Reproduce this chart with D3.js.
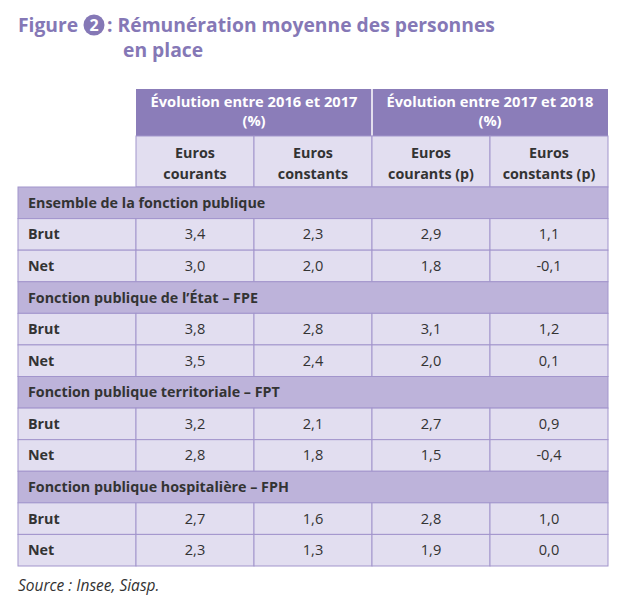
<!DOCTYPE html>
<html><head><meta charset="utf-8">
<script src="https://cdn.jsdelivr.net/npm/d3@7"></script>
<style>body{margin:0;background:#fff}svg{display:block}</style>
</head><body>
<script>
const periods = ["Évolution entre 2016 et 2017", "Évolution entre 2017 et 2018"];
const subHeaders = [["Euros","courants"],["Euros","constants"],["Euros","courants (p)"],["Euros","constants (p)"]];
const groups = ["Ensemble de la fonction publique","Fonction publique de l’État – FPE","Fonction publique territoriale – FPT","Fonction publique hospitalière – FPH"];
const rowLabels = ["Brut","Net"];
const brut = [["3,4","2,3","2,9","1,1"],["3,8","2,8","3,1","1,2"],["3,2","2,1","2,7","0,9"],["2,7","1,6","2,8","1,0"]];
const net  = [["3,0","2,0","1,8","-0,1"],["3,5","2,4","2,0","0,1"],["2,8","1,8","1,5","-0,4"],["2,3","1,3","1,9","0,0"]];

const W=640,H=604;
const font="'Open Sans', sans-serif";
const svg=d3.select("body").append("svg").attr("width",W).attr("height",H).style("font-family",font);

const purpleDark="#8b7db9", lilac="#bdb3da", pale="#e2def0", border="#a295cc", txt="#333333", titleC="#8578b6";
const fs=14.3;

// title
const tfs=19.3;
svg.append("text").attr("x",18).attr("y",32).attr("fill",titleC).attr("font-size",tfs).attr("font-weight",700).text("Figure");
svg.append("circle").attr("cx",94).attr("cy",25).attr("r",10.5).attr("fill",titleC);
svg.append("text").attr("x",94).attr("y",31).attr("fill","#fff").attr("font-size",16).attr("font-weight",700).attr("text-anchor","middle").text("2");
svg.append("text").attr("x",107).attr("y",32).attr("fill",titleC).attr("font-size",tfs).attr("font-weight",700).text(": Rémunération moyenne des personnes");
svg.append("text").attr("x",123).attr("y",57).attr("fill",titleC).attr("font-size",tfs).attr("font-weight",700).text("en place");

const cols=["label","c0","c1","c2","c3"];
const x=d3.scaleBand().domain(cols).range([18,608]);
const bodyRows=[];
groups.forEach((g,i)=>{
  bodyRows.push({type:"group",label:g});
  bodyRows.push({type:"data",label:rowLabels[0],vals:brut[i]});
  bodyRows.push({type:"data",label:rowLabels[1],vals:net[i]});
});
const y=d3.scaleBand().domain(d3.range(bodyRows.length)).range([187,566]);
const h1Top=89,h1Bot=136,h2Bot=187;

// header 1
periods.forEach((p,i)=>{
  const x0=x(cols[1+2*i]), x1=x(cols[2+2*i])+x.bandwidth();
  svg.append("rect").attr("x",x0).attr("y",h1Top).attr("width",x1-x0).attr("height",h1Bot-h1Top).attr("fill",purpleDark);
  const t=svg.append("text").attr("text-anchor","middle").attr("fill","#fff").attr("font-size",fs+0.4).attr("font-weight",700);
  t.append("tspan").attr("x",(x0+x1)/2).attr("y",107).text(p);
  t.append("tspan").attr("x",(x0+x1)/2).attr("y",126).text("(%)");
});
svg.append("line").attr("x1",x("c2")).attr("x2",x("c2")).attr("y1",h1Top).attr("y2",h1Bot).attr("stroke","#fff").attr("stroke-width",1.5);

// header 2
subHeaders.forEach((s,i)=>{
  const x0=x(cols[1+i]);
  svg.append("rect").attr("x",x0).attr("y",h1Bot).attr("width",x.bandwidth()).attr("height",h2Bot-h1Bot).attr("fill",pale).attr("stroke",border).attr("stroke-width",1);
  const t=svg.append("text").attr("text-anchor","middle").attr("fill",txt).attr("font-size",fs).attr("font-weight",700);
  t.append("tspan").attr("x",x0+x.bandwidth()/2).attr("y",158).text(s[0]);
  t.append("tspan").attr("x",x0+x.bandwidth()/2).attr("y",179).text(s[1]);
});

// body
bodyRows.forEach((r,i)=>{
  const yy=y(i), hh=y.bandwidth();
  if(r.type==="group"){
    svg.append("rect").attr("x",x("label")).attr("y",yy).attr("width",x.range()[1]-x("label")).attr("height",hh).attr("fill",lilac).attr("stroke",border);
    svg.append("text").attr("x",x("label")+10).attr("y",yy+hh/2+5).attr("fill",txt).attr("font-size",fs).attr("font-weight",700).text(r.label);
  } else {
    cols.forEach((c)=>{
      svg.append("rect").attr("x",x(c)).attr("y",yy).attr("width",x.bandwidth()).attr("height",hh).attr("fill",pale).attr("stroke",border);
    });
    svg.append("text").attr("x",x("label")+10).attr("y",yy+hh/2+5).attr("fill",txt).attr("font-size",fs).attr("font-weight",700).text(r.label);
    r.vals.forEach((v,j)=>{
      svg.append("text").attr("x",x(cols[j+1])+x.bandwidth()/2).attr("y",yy+hh/2+5).attr("text-anchor","middle").attr("fill",txt).attr("font-size",fs+0.3).text(v);
    });
  }
});

svg.append("text").attr("x",18).attr("y",591).attr("fill",txt).attr("font-size",15.5).attr("font-style","italic").text("Source : Insee, Siasp.");
</script>
</body></html>
